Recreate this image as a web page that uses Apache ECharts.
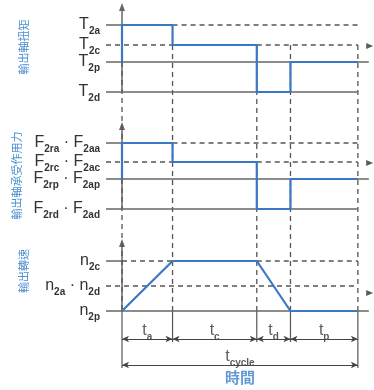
<!DOCTYPE html>
<html><head><meta charset="utf-8">
<script src="https://cdn.jsdelivr.net/npm/echarts@6/dist/echarts.min.js"></script>
<style>html,body{margin:0;padding:0;background:#fff}#c{width:374px;height:390px}</style>
</head><body><div id="c"></div>
<script>
// ---- data ----
const phases = ['a', 'c', 'd', 'p'];            // t_a, t_c, t_d, t_p
const phaseDur = [3, 5, 2, 4];                  // relative durations
const panelTitles = ['輸出軸扭矩', '輸出軸承受作用力', '輸出轉速'];
const torqueTickVals = [67, 47, 30, 0];
const torqueTickText = ['{m|T}{s|2a}', '{m|T}{s|2c}', '{m|T}{s|2p}', '{m|T}{s|2d}'];
const torqueByPhase = [67, 47, 0, 30];          // level held during a, c, d, p
const torqueStart = 30;
const forceTickVals = [66, 47, 30, 0];
const forceTickText = ['{m|F}{s|2ra}{m| · F}{s|2aa}', '{m|F}{s|2rc}{m| · F}{s|2ac}', '{m|F}{s|2rp}{m| · F}{s|2ap}', '{m|F}{s|2rd}{m| · F}{s|2ad}'];
const forceByPhase = [66, 47, 0, 30];
const forceStart = 30;
const speedTickVals = [50, 25, 0];
const speedTickText = ['{m|n}{s|2c}', '{m|n}{s|2a}{m| · n}{s|2d}', '{m|n}{s|2p}'];
const speedAtBreak = [0, 50, 50, 0, 0];         // speed at each phase boundary
const timeLabels = ['{m|t}{s|a}', '{m|t}{s|c}', '{m|t}{s|d}', '{m|t}{s|p}'];
const cycleLabel = '{m|t}{s|cycle}';
const xName = '時間';

// ---- layout ----
const XMIN = -0.95, XMAX = 14.72;
const tops = [7, 126, 243], bottoms = [92, 209, 311];
const titlePad = [[0, 0, 0, 5], [0, 16, 0, 0], [0, 0, 0, 12]];
const FONT = 'Liberation Sans, Arial, sans-serif';
const BLUE = '#3b78c4', GRAY = '#666', DASH = '#555';

const bp = [0];
phaseDur.forEach((d, i) => bp.push(bp[i] + d));
const tEnd = bp[bp.length - 1];

function stepData(start, byPhase) {
  const d = [[bp[0], start]];
  byPhase.forEach((v, i) => { d.push([bp[i], v]); d.push([bp[i + 1], v]); });
  return d;
}

const rich = {
  m: { fontSize: 16, lineHeight: 16, verticalAlign: 'top', color: '#333', fontFamily: FONT },
  s: { fontSize: 10, fontWeight: 'bold', lineHeight: 10, padding: [9, 0, 4, 0], verticalAlign: 'top', color: '#333', fontFamily: FONT }
};

const grids = [], xAxes = [], yAxes = [], series = [];
const tickSets = [[torqueTickVals, torqueTickText], [forceTickVals, forceTickText], [speedTickVals, speedTickText]];
for (let p = 0; p < 3; p++) {
  grids.push({ left: 106, right: 4, top: tops[p], height: bottoms[p] - tops[p] });
  xAxes.push({ type: 'value', gridIndex: p, min: XMIN, max: XMAX, show: false });
  const [tv, tt] = tickSets[p];
  yAxes.push({
    type: 'value', gridIndex: p, min: 0, max: bottoms[p] - tops[p], interval: 1,
    axisLine: { show: true, symbol: ['none', 'triangle'], symbolSize: [6, 8], lineStyle: { color: GRAY, width: 1.5 } },
    axisTick: { show: false }, splitLine: { show: false },
    axisLabel: { margin: 6, rich: rich, formatter: v => { const i = tv.indexOf(Math.round(v)); return (i >= 0 && Math.abs(v - tv[i]) < 1e-6) ? tt[i] : ''; } },
    name: panelTitles[p], nameLocation: 'middle', nameRotate: 90, nameGap: 77,
    nameTextStyle: { color: '#4a8fd2', fontSize: 11, fontFamily: 'Noto Sans CJK TC', padding: titlePad[p] }
  });
}
// overlay grid (full height) for time guides, in pixel-like units with 0 at n2p
grids.push({ left: 106, right: 4, top: 0, height: 390 });
xAxes.push({ type: 'value', gridIndex: 3, min: XMIN, max: XMAX, show: false });
yAxes.push({ type: 'value', gridIndex: 3, min: -(390 - bottoms[2]), max: bottoms[2], show: false });
const off = bottoms.map(b => bottoms[2] - b);

function seg(g, pts, color, width, type, z) {
  series.push({ type: 'line', xAxisIndex: g, yAxisIndex: g, data: pts, symbol: 'none', silent: true, animation: false,
    lineStyle: { color: color, width: width, type: type || 'solid', dashOffset: 0 }, z: z || 2, clip: false });
}
const dash = [5, 4];

// vertical dashed guides
const vStart = [torqueTickVals[2], torqueTickVals[1], torqueTickVals[1], torqueTickVals[1], torqueTickVals[1]];
bp.forEach((x, i) => seg(3, [[x, off[0] + vStart[i]], [x, 0]], DASH, 1.3, dash, 1));
// extension lines
bp.forEach((x, i) => {
  const outer = (i === 0 || i === bp.length - 1);
  seg(3, [[x, 0], [x, outer ? -57 : -31]], '#555', 1.2, 'solid', 1);
});

// torque & force panels
[[0, torqueTickVals], [1, forceTickVals]].forEach(([p, tv]) => {
  const [hi, mid, lo, bot] = tv;
  seg(p, [[XMIN, hi], [bp[0], hi]], GRAY, 1.5);
  seg(p, [[bp[1], hi], [tEnd, hi]], DASH, 1.3, dash);
  seg(p, [[XMIN, mid], [bp[1], mid]], DASH, 1.3, dash);
  seg(p, [[bp[2], mid], [tEnd, mid]], DASH, 1.3, dash);
  seg(p, [[XMIN, lo], [XMAX - 0.07, lo]], GRAY, 1.5);
  seg(p, [[XMIN, bot], [tEnd, bot]], GRAY, 1.5);
  series.push({ type: 'scatter', xAxisIndex: p, yAxisIndex: p, data: [[XMAX - 0.02, 46]], symbol: 'triangle', symbolRotate: -90, symbolSize: [6, 7], itemStyle: { color: '#333' }, silent: true, clip: false });
});
// speed panel
{
  const [hi, mid, lo] = speedTickVals;
  seg(2, [[XMIN, hi], [bp[0], hi]], GRAY, 1.5);
  seg(2, [[bp[0], hi], [bp[1], hi]], DASH, 1.3, dash);
  seg(2, [[bp[2], hi], [tEnd, hi]], DASH, 1.3, dash);
  seg(2, [[XMIN, mid], [tEnd, mid]], DASH, 1.3, dash);
  seg(2, [[XMIN, lo], [XMAX - 0.07, lo]], GRAY, 1.5);
  series.push({ type: 'scatter', xAxisIndex: 2, yAxisIndex: 2, data: [[XMAX - 0.02, 18]], symbol: 'triangle', symbolRotate: -90, symbolSize: [6, 7], itemStyle: { color: '#333' }, silent: true, clip: false });
}

// blue curves
seg(0, stepData(torqueStart, torqueByPhase), BLUE, 2.2, 'solid', 5);
seg(1, stepData(forceStart, forceByPhase), BLUE, 2.2, 'solid', 5);
seg(2, bp.map((x, i) => [x, speedAtBreak[i]]), BLUE, 2.2, 'solid', 5);

// dimension lines
const dimLines = phases.map((ph, i) => [{ coord: [bp[i], -28] }, { coord: [bp[i + 1], -28] }]);
dimLines.push([{ coord: [bp[0], -54] }, { coord: [tEnd, -54] }]);
series.push({ type: 'line', xAxisIndex: 3, yAxisIndex: 3, data: [], silent: true,
  markLine: { silent: true, animation: false, symbol: ['arrow', 'arrow'], symbolSize: [5, 7], label: { show: false },
    lineStyle: { color: '#444', width: 1.1, type: 'solid' }, data: dimLines } });

// time labels
const lbl = [];
phases.forEach((ph, i) => lbl.push({ value: [(bp[i] + bp[i + 1]) / 2, -20], label: { formatter: timeLabels[i] } }));
lbl.push({ value: [tEnd / 2, -46], label: { formatter: cycleLabel } });
lbl.push({ value: [tEnd / 2, -66], label: { formatter: xName, rich: {}, color: '#3b82c8', fontSize: 15, fontWeight: 'bold', fontFamily: 'Noto Sans CJK TC' } });
series.push({ type: 'scatter', xAxisIndex: 3, yAxisIndex: 3, symbolSize: 0, data: lbl, silent: true, clip: false,
  label: { show: true, position: 'inside', rich: rich } });

const chart = echarts.init(document.getElementById('c'), null, { renderer: 'canvas' });
chart.setOption({ animation: false, backgroundColor: '#fff', grid: grids, xAxis: xAxes, yAxis: yAxes, series: series });
</script></body></html>
